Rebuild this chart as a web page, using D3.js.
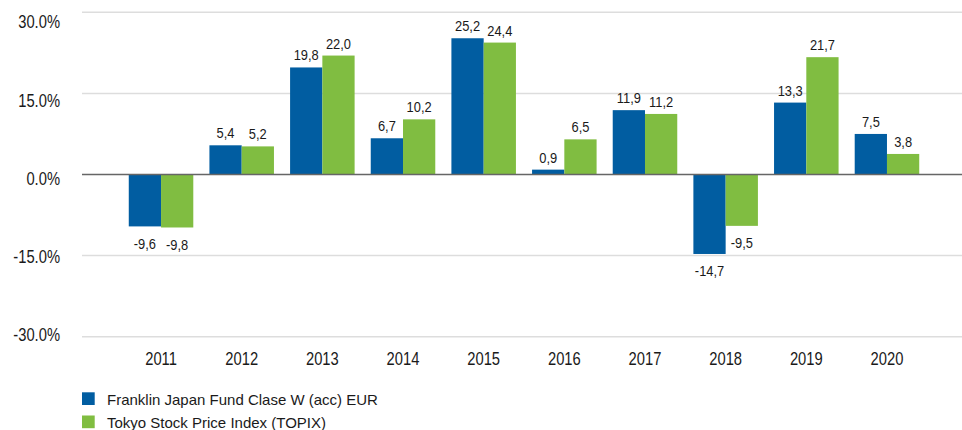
<!DOCTYPE html>
<html>
<head>
<meta charset="utf-8">
<script src="https://cdn.jsdelivr.net/npm/d3@7"></script>
<style>
  body { margin: 0; background: #fff; }
  text { fill: #1a1a1a; font-family: "Liberation Sans", Arial, sans-serif; }
</style>
</head>
<body>
<div id="chart"></div>
<script>
var years = ["2011", "2012", "2013", "2014", "2015", "2016", "2017", "2018", "2019", "2020"];
var fundValues = [-9.6, 5.4, 19.8, 6.7, 25.2, 0.9, 11.9, -14.7, 13.3, 7.5];
var topixValues = [-9.8, 5.2, 22.0, 10.2, 24.4, 6.5, 11.2, -9.5, 21.7, 3.8];
var seriesNames = ["Franklin Japan Fund Clase W (acc) EUR", "Tokyo Stock Price Index (TOPIX)"];
var yTicks = [-30, -15, 0, 15, 30];

var width = 962, height = 430;
var colors = ["#015da1", "#80bd41"];
var squeeze = 0.82; // the original uses a condensed face

const fmt1 = v => d3.format(".1f")(v).replace("\u2212", "-");

const svg = d3.select("#chart").append("svg")
  .attr("width", width)
  .attr("height", height);

const y = d3.scaleLinear().domain([-30, 30]).range([336.7, 12.3]);
// tick labels in the original sit slightly inside the gridlines
const yLabel = d3.scaleLinear().domain([-30, 30]).range([335, 22]);

const x = d3.scaleBand()
  .domain(years)
  .range([120.7, 927.3])
  .paddingInner(0.2)
  .paddingOuter(0.1);

const xInner = d3.scaleBand()
  .domain([0, 1])
  .range([0, x.bandwidth()]);

// gridlines
svg.append("g")
  .selectAll("line")
  .data(yTicks.filter(d => d !== 0))
  .join("line")
  .attr("x1", 82).attr("x2", width)
  .attr("y1", d => y(d)).attr("y2", d => y(d))
  .attr("stroke", "#dddddd")
  .attr("stroke-width", 1.5);

// y labels
svg.append("g")
  .selectAll("text")
  .data(yTicks)
  .join("text")
  .attr("transform", d => `translate(60,${yLabel(d)}) scale(${squeeze},1)`)
  .attr("dy", "0.35em")
  .attr("text-anchor", "end")
  .style("font-size", "18px")
  .text(d => fmt1(d) + "%");

// bars
var rows = years.map(function (yr, i) {
  return { year: yr, values: [fundValues[i], topixValues[i]] };
});

const groups = svg.append("g")
  .selectAll("g")
  .data(rows)
  .join("g")
  .attr("transform", d => `translate(${x(d.year)},0)`);

groups.selectAll("rect")
  .data(d => d.values.map((v, k) => ({ v: v, k: k })))
  .join("rect")
  .attr("x", d => xInner(d.k))
  .attr("width", xInner.bandwidth())
  .attr("y", d => y(Math.max(0, d.v)))
  .attr("height", d => Math.abs(y(d.v) - y(0)))
  .attr("fill", d => colors[d.k]);

groups.selectAll("text")
  .data(d => d.values.map((v, k) => ({ v: v, k: k })))
  .join("text")
  .attr("transform", d => {
    var tx = xInner(d.k) + xInner.bandwidth() / 2;
    var ty = d.v >= 0 ? y(d.v) - 7 : y(d.v) + 22.5;
    return `translate(${tx},${ty}) scale(0.86,1)`;
  })
  .attr("text-anchor", "middle")
  .style("font-size", "15px")
  .text(d => fmt1(d.v).replace(".", ","));

// zero line
svg.append("line")
  .attr("x1", 82).attr("x2", width)
  .attr("y1", y(0)).attr("y2", y(0))
  .attr("stroke", "#666666")
  .attr("stroke-width", 1.5);

// x labels
svg.append("g")
  .selectAll("text")
  .data(years)
  .join("text")
  .attr("transform", d => `translate(${x(d) + x.bandwidth() / 2},365) scale(${squeeze},1)`)
  .attr("text-anchor", "middle")
  .style("font-size", "18px")
  .text(d => d);

// legend
const legend = svg.append("g")
  .selectAll("g")
  .data(seriesNames)
  .join("g")
  .attr("transform", (d, i) => `translate(82,${392.3 + i * 23.2})`);

legend.append("rect")
  .attr("width", 12.7)
  .attr("height", 12.7)
  .attr("fill", (d, i) => colors[i]);

legend.append("text")
  .attr("x", 25)
  .attr("y", 12.5)
  .style("font-size", "15px")
  .text(d => d);
</script>
</body>
</html>
